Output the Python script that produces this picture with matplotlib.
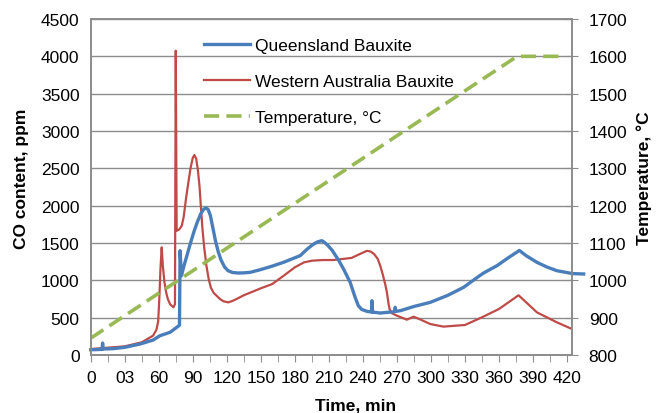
import matplotlib
matplotlib.use('Agg')
import matplotlib.pyplot as plt
import matplotlib.ticker as mticker

plt.rcParams['font.family'] = ['Liberation Sans', 'DejaVu Sans']
plt.rcParams['font.size'] = 12.5

# Queensland bauxite, CO (ppm) vs time (min)
q_time = [0, 10, 10.5, 11, 20, 30, 43.5, 55, 61, 70, 75.9, 78.3, 78.8, 80,
          82, 85, 88, 91, 94, 97, 99.5, 101.5, 103.5, 105.5, 107.5, 110,
          112.5, 115, 118, 121, 125, 130, 135, 140.6, 149, 160, 170, 178,
          184.7, 191, 196, 200, 203.8, 206, 209, 213, 218.5, 223, 228.8,
          233, 236, 239, 243.5, 247.5, 248, 248.5, 255.3, 268, 268.5, 269,
          273, 285, 299.4, 315, 328.8, 340, 346.4, 358.2, 368, 374, 378,
          384, 393.5, 402, 411, 425, 434.7]
q_co = [70, 75, 160, 80, 85, 103, 147, 200, 258, 304, 371, 400, 1397, 1062,
        1180, 1340, 1500, 1650, 1780, 1890, 1950, 1970, 1950, 1870, 1720, 1530,
        1380, 1270, 1180, 1130, 1105, 1098, 1100, 1107, 1140, 1190, 1241, 1290,
        1330, 1420, 1480, 1515, 1531, 1510, 1470, 1400, 1272, 1150, 973,
        780, 660, 610, 585, 575, 727, 575, 562, 580, 638, 585,
        593, 650, 705, 800, 906, 1030, 1098, 1196, 1300, 1360, 1400,
        1330, 1241, 1180, 1129, 1090, 1085]

# Western Australia bauxite
w_time = [0, 30, 45, 55, 58, 59.5, 60.5, 61.5, 62.6, 63.6, 65, 66.5, 68, 70,
          72.9, 74.3, 75, 75.8, 78, 80.3, 82, 84, 86, 88, 90, 91.4, 93,
          94.5, 96, 97.3, 98.5, 100, 102, 104, 106, 108.5, 111, 114, 117,
          121.4, 126, 135, 150, 160, 170, 180, 188, 195, 205, 214, 230,
          237, 243.5, 247, 250, 253, 255.3, 257.5, 259.5, 261.2, 262.5,
          263.5, 265.5, 270, 278.8, 284.7, 290, 299.4, 311, 330, 345, 360,
          377.3, 393.5, 411, 424.4]
w_co = [80, 116, 170, 259, 340, 450, 750, 1150, 1442, 1200, 977, 840, 750, 680,
        639, 680, 4075, 1664, 1680, 1731, 1850, 2089, 2300, 2500, 2640, 2678, 2630,
        2480, 2250, 1955, 1700, 1450, 1200, 1020, 900, 830, 794, 750, 720,
        705, 730, 800, 893, 950, 1060, 1174, 1240, 1263, 1272, 1272, 1300,
        1350, 1395, 1385, 1350, 1290, 1196, 1080, 960, 839, 700,
        616, 560, 527, 473, 513, 480, 415, 380, 402, 505, 616,
        800, 571, 438, 348]

# Temperature profile
t_time = [0, 376, 416]
t_temp = [845, 1600, 1600]

x_ticks = list(range(0, 421, 30))
x_labels = ['0', '03'] + [str(v) for v in range(60, 421, 30)]

blue = '#4A7EBB'
red = '#BE4B48'
green = '#98B954'
grey = '#8C8C8C'

fig = plt.figure(figsize=(6.56, 4.14), dpi=100)
ax = fig.add_axes([90.7/656, 1 - 356/414, (572 - 90.7)/656, (356 - 20)/414])
ax2 = ax.twinx()

l1, = ax.plot(q_time, q_co, color=blue, lw=2.4, clip_on=False,
              label='Queensland Bauxite', zorder=3)
l2, = ax.plot(w_time, w_co, color=red, lw=1.6, label='Western Australia Bauxite',
              zorder=2)
l3, = ax2.plot(t_time, t_temp, color=green, lw=2.6, dashes=(4.2, 2.0),
               label='Temperature, °C')

ax.set_xlim(0, 424.4)
ax.set_ylim(0, 4500)
ax2.set_ylim(800, 1700)
ax.set_yticks(range(0, 4501, 500))
ax2.set_yticks(range(800, 1701, 100))
ax.set_xticks(x_ticks)
ax.set_xticklabels(x_labels)
ax.xaxis.set_minor_locator(mticker.MultipleLocator(15))

ax.grid(axis='y', color=grey, lw=1)
ax.set_axisbelow(True)
for a in (ax, ax2):
    for s in a.spines.values():
        s.set_color(grey)
        s.set_linewidth(1.2)

ax.tick_params(axis='y', length=0, pad=8)
ax.tick_params(axis='x', which='both', direction='out', length=5, color=grey, pad=6)
ax2.tick_params(axis='y', direction='inout', length=8, color=grey, pad=8)

fig.text(356/656, 1 - 406/414, 'Time, min', fontweight='bold',
         ha='center', va='center')
fig.text(21.7/656, 1 - 179/414, 'CO content, ppm', rotation=90, fontweight='bold',
         ha='center', va='center')
fig.text(644/656, 1 - 178/414, 'Temperature, °C', rotation=90, fontweight='bold',
         ha='center', va='center')

ax.legend(handles=[l1, l2, l3], loc='upper left', frameon=False,
          bbox_to_anchor=(204/656, 1 - 39/414), bbox_transform=fig.transFigure,
          borderpad=0, borderaxespad=0, handlelength=2.65, handletextpad=0.3,
          labelspacing=1.2)

fig.savefig('out.png', dpi=100)
